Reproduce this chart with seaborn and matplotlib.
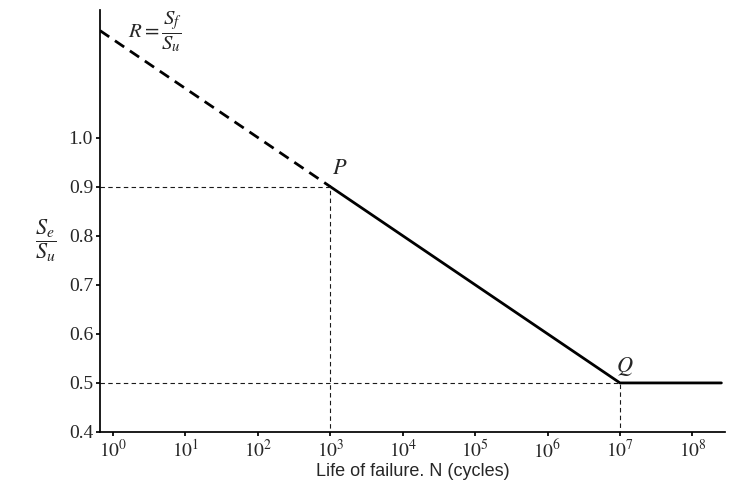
import numpy as np
import matplotlib
matplotlib.use("Agg")
import matplotlib.pyplot as plt
import seaborn as sns

# data: log10(N) and S_e/S_u
dash_x = [-0.18, 3]
dash_y = [1.218, 0.9]
solid_x = [3, 7, 8.4]
solid_y = [0.9, 0.5, 0.5]
yticks = [0.4, 0.5, 0.6, 0.7, 0.8, 0.9, 1.0]
xticks = list(range(0, 9))

sns.set_theme(style="white")
plt.rcParams['font.family'] = ['Liberation Serif', 'DejaVu Serif']
plt.rcParams['mathtext.fontset'] = 'stix'

fig = plt.figure(figsize=(7.4, 4.84), dpi=100)
ax = fig.add_axes([100/740, 52/484, 625/740, 422/484])

sns.lineplot(x=dash_x, y=dash_y, ax=ax, color='black', lw=2, linestyle=(0, (4, 2.5)))
sns.lineplot(x=solid_x, y=solid_y, ax=ax, color='black', lw=2)
ax.plot([-0.18, 3, 3], [0.9, 0.9, 0.4], 'k--', lw=0.8, dashes=(4, 3))
ax.plot([-0.18, 7, 7], [0.5, 0.5, 0.4], 'k--', lw=0.8, dashes=(4, 3))

ax.set_xlim(-0.18, 8.45)
ax.set_ylim(0.4, 1.26)
ax.set_xticks(xticks)
ax.set_xticklabels([r'$10^{%d}$' % t for t in xticks], fontsize=14)
ax.set_yticks(yticks)
ax.set_yticklabels(['%.1f' % t for t in yticks], fontsize=14)
ax.tick_params(direction='out', length=3, pad=2, color='black', bottom=True, left=True)
for s in ['top', 'right']:
    ax.spines[s].set_visible(False)
for s in ['left', 'bottom']:
    ax.spines[s].set_color('black')

ax.set_xlabel('Life of failure. N (cycles)', fontsize=13, family='Liberation Sans', labelpad=1)
ax.text(-0.92, 0.79, r'$\dfrac{S_e}{S_u}$', fontsize=16, ha='center', va='center')
ax.text(0.2, 1.215, r'$R = \dfrac{S_f}{S_u}$', fontsize=15, ha='left', va='center')
ax.text(3.03, 0.915, r'$P$', fontsize=16, ha='left', va='bottom')
ax.text(6.95, 0.51, r'$Q$', fontsize=16, ha='left', va='bottom')

fig.savefig('out.png', dpi=100)
